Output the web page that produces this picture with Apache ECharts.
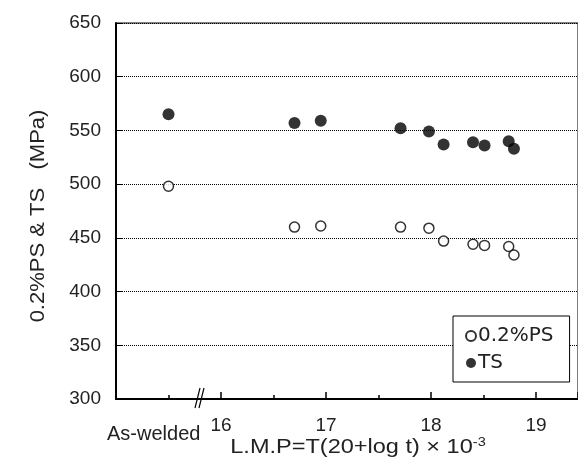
<!DOCTYPE html>
<html>
<head>
<meta charset="utf-8">
<script src="https://cdn.jsdelivr.net/npm/echarts@6/dist/echarts.min.js"></script>
<style>
  html, body { margin: 0; padding: 0; background: #fff; }
  #main { width: 578px; height: 460px; }
</style>
</head>
<body>
<div id="main"></div>
<script>
// L.M.P values (As-welded drawn at 15.5 on the broken axis)
const lmp = [15.5, 16.70, 16.95, 17.71, 17.98, 18.12, 18.40, 18.51, 18.74, 18.79];
const ps02 = [498, 460, 461, 460, 459, 447, 444, 443, 442, 434];
const ts = [565, 557, 559, 552, 549, 537, 539, 536, 540, 533];
const xTickLabels = ["16", "17", "18", "19"];

var font = "'Liberation Sans', Arial, sans-serif";
var chartDom = document.getElementById("main");
var myChart = echarts.init(chartDom);
var option;

option = {
  animation: false,
  grid: {
    left: 116,
    right: -3,
    top: 23,
    bottom: 61,
    show: true,
    borderColor: "#000",
    borderWidth: 1,
  },
  xAxis: {
    type: "value",
    min: 15,
    max: 19.4,
    interval: 1,
    axisLine: { show: true, onZero: false, lineStyle: { color: "#000", width: 2 } },
    axisTick: { show: true, inside: true, length: 7, lineStyle: { color: "#000", width: 1.5 } },
    minorTick: { show: true, splitNumber: 2, length: 4, lineStyle: { color: "#000", width: 1.5 } },
    splitLine: { show: false },
    axisLabel: {
      margin: 17,
      fontSize: 19,
      fontFamily: font,
      color: "#222",
      showMinLabel: false,
      showMaxLabel: false,
      formatter: function (v) {
        var s = String(v);
        return xTickLabels.indexOf(s) >= 0 ? s : "";
      },
    },
  },
  yAxis: {
    type: "value",
    min: 300,
    max: 650,
    interval: 50,
    axisLine: { show: true, lineStyle: { color: "#000", width: 2 } },
    axisTick: { show: true, inside: true, length: 7, lineStyle: { color: "#000", width: 1 } },
    splitLine: { show: true, lineStyle: { color: "#000", width: 1, type: [1, 1] } },
    axisLabel: { margin: 15, fontSize: 19, fontFamily: font, color: "#222" },
  },
  legend: {
    orient: "vertical",
    left: 453,
    top: 316,
    backgroundColor: "#fff",
    borderColor: "#000",
    borderWidth: 1,
    borderRadius: 0,
    padding: [10, 16, 9, 12],
    itemGap: 7,
    itemWidth: 10,
    itemHeight: 10,
    textStyle: {
      fontSize: 20,
      fontFamily: "'DejaVu Sans', sans-serif",
      color: "#222",
      padding: [0, 0, 0, -3],
    },
    data: ["0.2%PS", "TS"],
  },
  series: [
    {
      name: "0.2%PS",
      type: "scatter",
      symbol: "circle",
      symbolSize: 10,
      itemStyle: { color: "#fff", borderColor: "#000", borderWidth: 1.5 },
      data: lmp.map(function (x, i) { return [x, ps02[i]]; }),
    },
    {
      name: "TS",
      type: "scatter",
      symbol: "circle",
      symbolSize: 12,
      itemStyle: { color: "#000" },
      data: lmp.map(function (x, i) { return [x, ts[i]]; }),
    },
  ],
  graphic: [
    {
      type: "text",
      x: 107,
      y: 434,
      style: {
        text: "As-welded",
        fontSize: 20,
        fontFamily: font,
        fill: "#222",
        textVerticalAlign: "middle",
      },
    },
    {
      type: "text",
      x: 358,
      y: 447,
      scaleX: 1.12,
      style: {
        text: "{a|L.M.P=T(20+log t) × 10}{s|-3}",
        textAlign: "center",
        textVerticalAlign: "middle",
        rich: {
          a: { fontSize: 21, fontFamily: font, fill: "#222" },
          s: { fontSize: 13, fontFamily: font, fill: "#222", verticalAlign: "top", padding: [0, 0, 9, 0] },
        },
      },
    },
    {
      type: "text",
      x: 38,
      y: 216,
      rotation: Math.PI / 2,
      scaleX: 1.1,
      style: {
        text: "0.2%PS & TS   (MPa)",
        fontSize: 20,
        fontFamily: font,
        fill: "#222",
        textAlign: "center",
        textVerticalAlign: "middle",
      },
    },
    {
      type: "line",
      shape: { x1: 195, y1: 408, x2: 200, y2: 388 },
      style: { stroke: "#000", lineWidth: 1.2 },
    },
    {
      type: "line",
      shape: { x1: 199, y1: 408, x2: 204, y2: 388 },
      style: { stroke: "#000", lineWidth: 1.2 },
    },
  ],
};

option && myChart.setOption(option);
</script>
</body>
</html>
